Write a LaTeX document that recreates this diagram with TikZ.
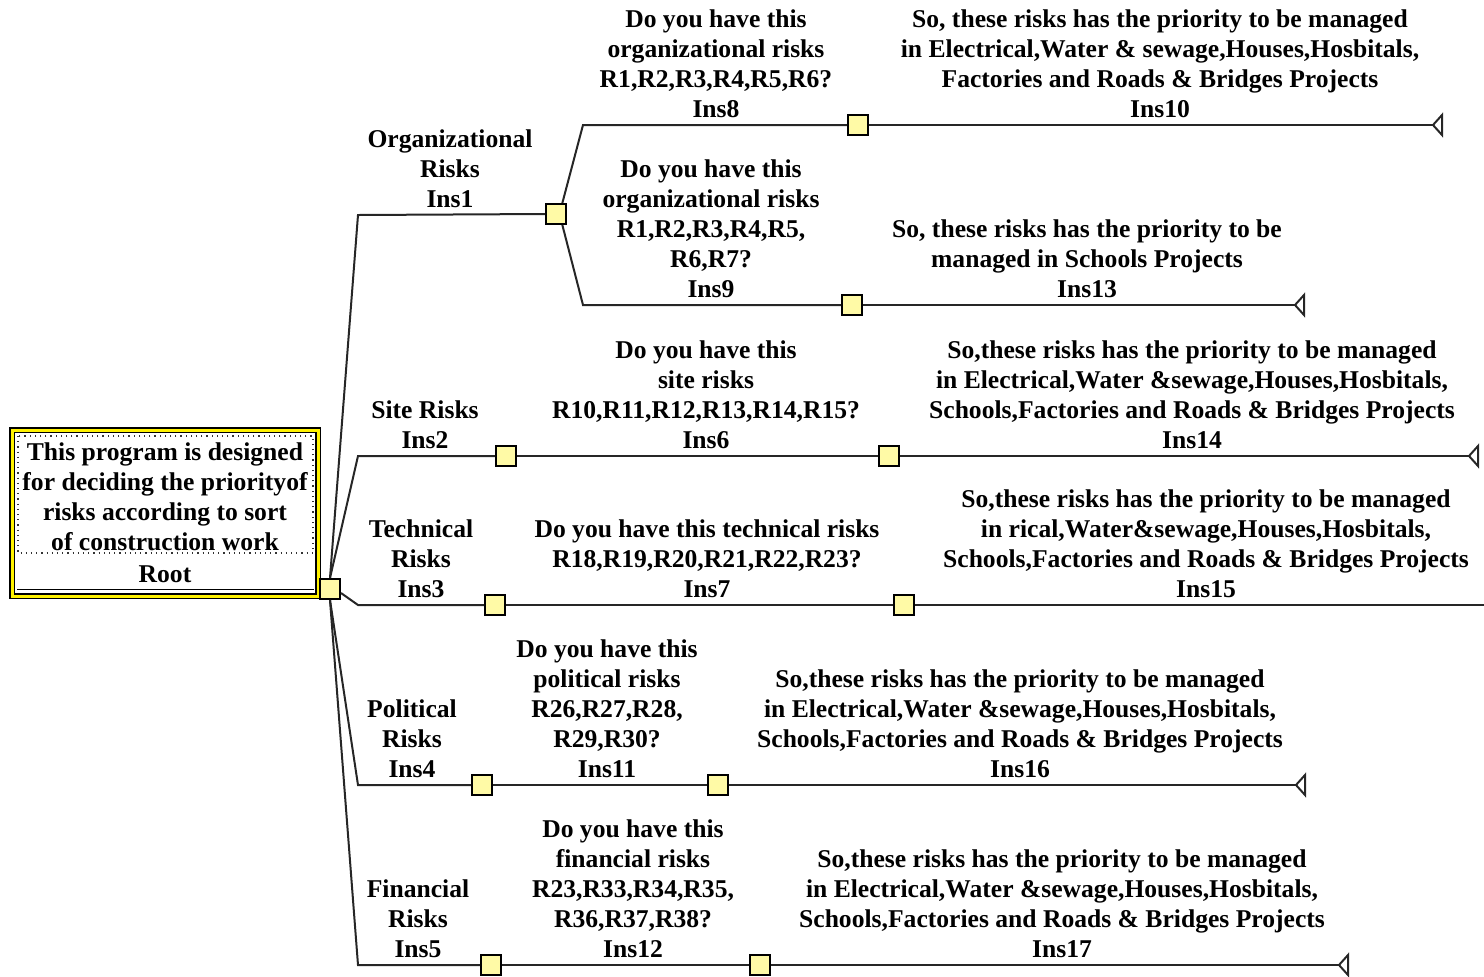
\documentclass[tikz,border=0pt]{standalone}
\usepackage{fontspec}
\setmainfont{Liberation Serif}
\usetikzlibrary{calc}
\begin{document}
\begin{tikzpicture}[x=0.5pt,y=-0.5pt,
  lbl/.style={anchor=south, inner sep=0pt, align=center, font=\fontsize{12.8}{15}\selectfont\bfseries},
  sq/.style={draw=black, line width=1pt, fill=yellow!35, minimum size=10pt, inner sep=0pt},
  br/.style={draw=black!85, line width=1pt},
  endtri/.pic={\draw[br] (0,0) -- (9,-10) -- (9,10) -- cycle;}
]
\useasboundingbox (0,0) rectangle (1484,976);
% root box
\node (root) [draw=black, line width=0.6pt, double=yellow, double distance=1.5pt, fill=white,
  minimum width=153pt, minimum height=83pt, inner sep=0pt] at (165,513) {};
\draw[black!80, dotted, line width=0.6pt] (18,436) rectangle (313,553);
\draw[black, line width=0.5pt] (17,589) -- (314,589);
\node[lbl] (roottext) at (165,551) {This program is designed\\for deciding the priorityof\\risks according to sort\\of construction work};
\node[lbl] (rootlbl) at (165,583) {Root};
% squares
\node[sq] (rs) at (330,589) {};
\node[sq] (s1) at (556,214) {};
\node[sq] (s8) at (858,125) {};
\node[sq] (s9) at (852,305) {};
\node[sq] (s2) at (506,456) {};
\node[sq] (s6) at (889,456) {};
\node[sq] (s3) at (495,605) {};
\node[sq] (s7) at (904,605) {};
\node[sq] (s4) at (482,785) {};
\node[sq] (s11) at (718,785) {};
\node[sq] (s5) at (491,965) {};
\node[sq] (s12) at (760,965) {};
% bend points and ends
\coordinate (k1) at (358,215);
\coordinate (k2) at (358,456);
\coordinate (k3) at (358,605);
\coordinate (k4) at (358,785);
\coordinate (k5) at (358,965);
\coordinate (k8) at (583,125);
\coordinate (k9) at (583,305);
\coordinate (e10) at (1433,125);
\coordinate (e13) at (1295,305);
\coordinate (e14) at (1469,456);
\coordinate (e15) at (1484,605);
\coordinate (e16) at (1296,785);
\coordinate (e17) at (1339,965);
% connectors
\draw[br] (rs.north) -- (k1) -- (s1.west);
\draw[br] (rs.north) -- (k2) -- (s2.west);
\draw[br] (rs.-20) -- (k3) -- (s3.west);
\draw[br] (rs.south) -- (k4) -- (s4.west);
\draw[br] (rs.south) -- (k5) -- (s5.west);
\draw[br] (s1.60) -- (k8) -- (s8.west);
\draw[br] (s1.-60) -- (k9) -- (s9.west);
\draw[br] (s8.east) -- (e10);
\draw[br] (s9.east) -- (e13);
\draw[br] (s2.east) -- (s6.west);
\draw[br] (s6.east) -- (e14);
\draw[br] (s3.east) -- (s7.west);
\draw[br] (s7.east) -- (e15);
\draw[br] (s4.east) -- (s11.west);
\draw[br] (s11.east) -- (e16);
\draw[br] (s5.east) -- (s12.west);
\draw[br] (s12.east) -- (e17);
% end markers
\pic at (e10) {endtri};
\pic at (e13) {endtri};
\pic at (e14) {endtri};
\pic at (e16) {endtri};
\pic at (e17) {endtri};
% labels
\node[lbl] (t1) at (450,208) {Organizational\\Risks\\Ins1};
\node[lbl] (t8) at (716,118) {Do you have this\\organizational risks\\R1,R2,R3,R4,R5,R6?\\Ins8};
\node[lbl] (t10) at (1160,118) {So, these risks has the priority to be managed\\in Electrical,Water \& sewage,Houses,Hosbitals,\\Factories and Roads \& Bridges Projects\\Ins10};
\node[lbl] (t9) at (711,298) {Do you have this\\organizational risks\\R1,R2,R3,R4,R5,\\R6,R7?\\Ins9};
\node[lbl] (t13) at (1087,298) {So, these risks has the priority to be\\managed in Schools Projects\\Ins13};
\node[lbl] (t2) at (425,449) {Site Risks\\Ins2};
\node[lbl] (t6) at (706,449) {Do you have this\\site risks\\R10,R11,R12,R13,R14,R15?\\Ins6};
\node[lbl] (t14) at (1192,449) {So,these risks has the priority to be managed\\in Electrical,Water \&sewage,Houses,Hosbitals,\\Schools,Factories and Roads \& Bridges Projects\\Ins14};
\node[lbl] (t3) at (421,598) {Technical\\Risks\\Ins3};
\node[lbl] (t7) at (707,598) {Do you have this technical risks\\R18,R19,R20,R21,R22,R23?\\Ins7};
\node[lbl] (t15) at (1206,598) {So,these risks has the priority to be managed\\in rical,Water\&sewage,Houses,Hosbitals,\\Schools,Factories and Roads \& Bridges Projects\\Ins15};
\node[lbl] (t4) at (412,778) {Political\\Risks\\Ins4};
\node[lbl] (t11) at (607,778) {Do you have this\\political risks\\R26,R27,R28,\\R29,R30?\\Ins11};
\node[lbl] (t16) at (1020,778) {So,these risks has the priority to be managed\\in Electrical,Water \&sewage,Houses,Hosbitals,\\Schools,Factories and Roads \& Bridges Projects\\Ins16};
\node[lbl] (t5) at (418,958) {Financial\\Risks\\Ins5};
\node[lbl] (t12) at (633,958) {Do you have this\\financial risks\\R23,R33,R34,R35,\\R36,R37,R38?\\Ins12};
\node[lbl] (t17) at (1062,958) {So,these risks has the priority to be managed\\in Electrical,Water \&sewage,Houses,Hosbitals,\\Schools,Factories and Roads \& Bridges Projects\\Ins17};
\end{tikzpicture}
\end{document}
